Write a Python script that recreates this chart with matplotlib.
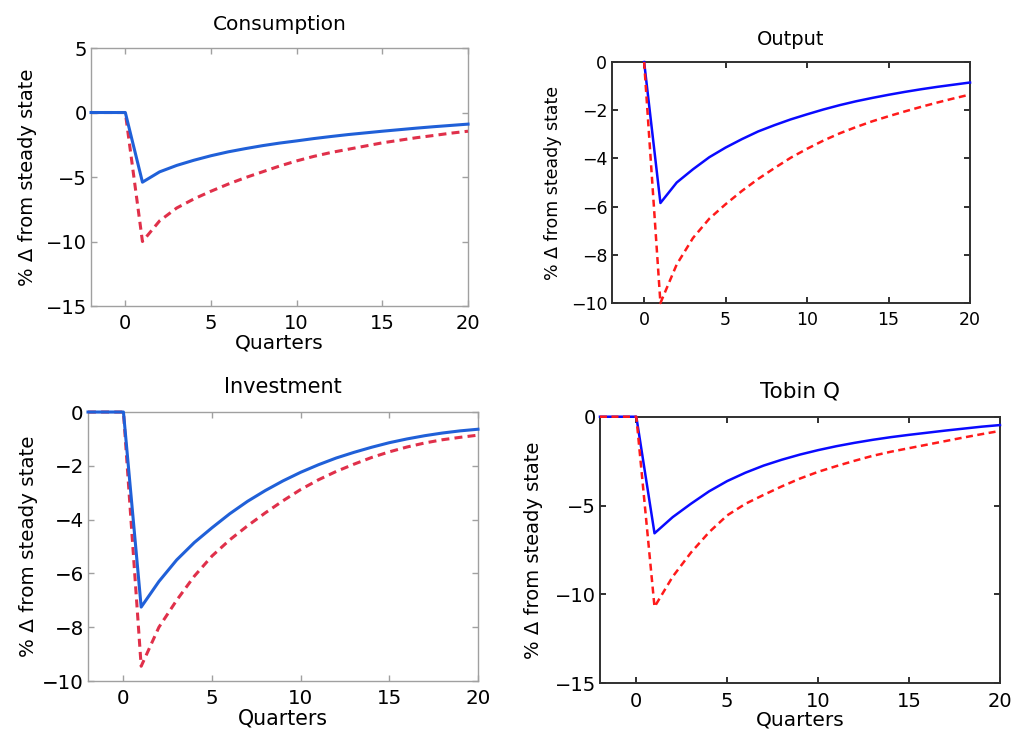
import matplotlib
matplotlib.use("Agg")
import matplotlib.pyplot as plt

plt.rcParams['font.family'] = ['DejaVu Sans']

quarters = list(range(-2, 21))
quarters_out = list(range(0, 21))

# Consumption
cons_blue = [0, 0, 0, -5.4, -4.6, -4.1, -3.7, -3.35, -3.05, -2.8, -2.57, -2.37, -2.2,
             -2.02, -1.86, -1.71, -1.58, -1.45, -1.33, -1.21, -1.1, -1.0, -0.9]
cons_red = [0, 0, 0, -10.0, -8.4, -7.4, -6.7, -6.1, -5.55, -5.05, -4.6, -4.15, -3.75,
            -3.4, -3.1, -2.85, -2.6, -2.35, -2.15, -1.95, -1.78, -1.6, -1.45]

# Output (starts at quarter 0)
out_blue = [0, -5.85, -5.0, -4.45, -3.95, -3.55, -3.2, -2.88, -2.62, -2.38, -2.17,
            -1.97, -1.79, -1.63, -1.49, -1.36, -1.24, -1.13, -1.03, -0.94, -0.85]
out_red = [0, -10.0, -8.4, -7.3, -6.5, -5.9, -5.35, -4.85, -4.4, -3.97, -3.6,
           -3.26, -2.96, -2.7, -2.46, -2.25, -2.05, -1.86, -1.68, -1.51, -1.35]

# Investment
inv_blue = [0, 0, 0, -7.25, -6.3, -5.5, -4.85, -4.3, -3.78, -3.32, -2.92, -2.56, -2.24,
            -1.96, -1.71, -1.5, -1.31, -1.14, -1.0, -0.88, -0.78, -0.7, -0.64]
inv_red = [0, 0, 0, -9.45, -8.0, -7.0, -6.1, -5.35, -4.75, -4.23, -3.75, -3.3, -2.88,
           -2.52, -2.21, -1.94, -1.69, -1.48, -1.3, -1.15, -1.03, -0.94, -0.86]

# Tobin Q
tq_blue = [0, 0, 0, -6.56, -5.65, -4.9, -4.2, -3.62, -3.15, -2.75, -2.42, -2.13, -1.88,
           -1.66, -1.47, -1.3, -1.15, -1.02, -0.9, -0.78, -0.67, -0.56, -0.47]
tq_red = [0, 0, 0, -10.7, -9.0, -7.65, -6.5, -5.55, -4.9, -4.4, -3.92, -3.48, -3.1,
          -2.78, -2.48, -2.2, -1.97, -1.77, -1.57, -1.37, -1.17, -0.98, -0.8]

ylab = "% \u0394 from steady state"
xticks = [0, 5, 10, 15, 20]

fig = plt.figure(figsize=(10.15, 7.33), dpi=100)


def style(ax, fs, frame, lw, yticks, ylim, title, tfs, tpad, ylx, xlabel=True):
    ax.set_xlim(-2, 20)
    ax.set_ylim(*ylim)
    ax.set_xticks(xticks)
    ax.set_yticks(yticks)
    ax.tick_params(direction='in', length=4, width=lw, color=frame,
                   top=True, right=True, labelsize=fs)
    ax.tick_params(axis='x', pad=6)
    ax.tick_params(axis='y', pad=3)
    for s in ax.spines.values():
        s.set_color(frame)
        s.set_linewidth(lw)
    ax.set_title(title, fontsize=tfs, pad=tpad)
    ax.set_ylabel(ylab, fontsize=fs)
    ax.yaxis.set_label_coords(ylx, 0.5)
    if xlabel:
        ax.set_xlabel("Quarters", fontsize=fs + 0.5, labelpad=0)


# Consumption
ax1 = fig.add_axes([0.0897, 0.5825, 0.3714, 0.352])
ax1.plot(quarters, cons_red, color='#e0304a', lw=2.2, dashes=(2.6, 1.7), clip_on=False, zorder=3)
ax1.plot(quarters, cons_blue, color='#2060d8', lw=2.2, clip_on=False, zorder=3)
style(ax1, 14, '#a0a0a0', 1.0, [-15, -10, -5, 0, 5], (-15, 5), "Consumption", 14.5, 13, -0.143)

# Output
ax2 = fig.add_axes([0.6025, 0.5866, 0.3532, 0.3288])
ax2.plot(quarters_out, out_blue, color='#0a0aff', lw=1.8, clip_on=False, zorder=3)
ax2.plot(quarters_out, out_red, color='#ff1a1a', lw=1.8, dashes=(2.8, 1.8), clip_on=False, zorder=3)
style(ax2, 12.5, '#303030', 1.4, [-10, -8, -6, -4, -2, 0], (-10, 0), "Output", 14, 12, -0.138,
      xlabel=False)

# Investment
ax3 = fig.add_axes([0.0867, 0.0709, 0.3842, 0.367])
ax3.plot(quarters, inv_red, color='#e0304a', lw=2.2, dashes=(2.6, 1.7), clip_on=False, zorder=3)
ax3.plot(quarters, inv_blue, color='#2060d8', lw=2.2, clip_on=False, zorder=3)
style(ax3, 14.3, '#a0a0a0', 1.0, [-10, -8, -6, -4, -2, 0], (-10, 0), "Investment", 15, 14, -0.128)

# Tobin Q
ax4 = fig.add_axes([0.5911, 0.0678, 0.3941, 0.3637])
ax4.plot(quarters, tq_blue, color='#0a0aff', lw=1.8, clip_on=False, zorder=3)
ax4.plot(quarters, tq_red, color='#ff1a1a', lw=1.8, dashes=(2.8, 1.8), clip_on=False, zorder=3)
style(ax4, 14, '#303030', 1.4, [-15, -10, -5, 0], (-15, 0), "Tobin Q", 15.5, 14, -0.1425)

fig.savefig("out.png", dpi=100)
